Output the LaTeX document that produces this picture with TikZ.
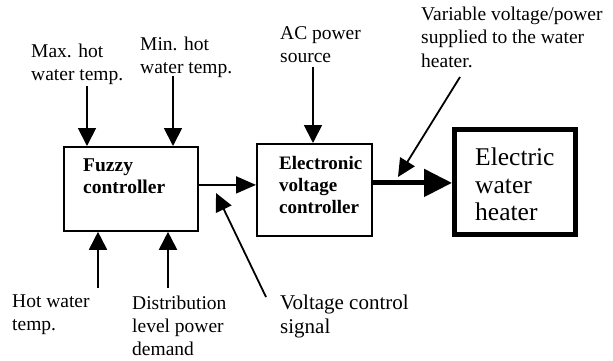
\documentclass[tikz,border=0pt]{standalone}
\usepackage{fontspec}
\setmainfont{Liberation Serif}
\usetikzlibrary{arrows.meta}

\begin{document}
\begin{tikzpicture}[x=1pt,y=-1pt,
    lbl/.style={anchor=north west, inner sep=0pt, align=left, font={\fontsize{19.5}{23}\selectfont}},
    box/.style={draw, line width=1.8pt, anchor=north west, inner sep=0pt},
    boxtxt/.style={anchor=north west, inner sep=0pt, align=left, font={\bfseries\fontsize{19.5}{22}\selectfont}},
    arr/.style={line width=1.8pt, -{Triangle[width=18pt,length=18pt]}},
    powarr/.style={line width=5pt, -{Triangle[width=27pt,length=28pt]}}]
    \useasboundingbox (0,0) rectangle (613,360);

    % Draw the blocks
    \node[box, minimum width=134pt, minimum height=84pt] (fuzzy) at (63,146) {};
    \node[box, minimum width=115pt, minimum height=92pt] (volt) at (256,143) {};
    \node[box, line width=5pt, minimum width=121pt, minimum height=105pt] (heater) at (452,127) {};

    \node[boxtxt] (fuzzyT) at ([shift={(20,12.7)}]fuzzy.north west) {Fuzzy\\controller};
    \node[boxtxt, font={\bfseries\fontsize{19}{22}\selectfont}] (voltT) at ([shift={(23,13)}]volt.north west) {Electronic\\voltage\\controller};
    \node[boxtxt, font={\fontsize{25.5}{27.5}\selectfont}] (heaterT) at ([shift={(23,20.6)}]heater.north west) {Electric\\water\\heater};

    % Labels
    \node[lbl] (maxT) at (31,43.7) {Max. hot\\water temp.};
    \node[lbl] (minT) at (140,36.7) {Min. hot\\water temp.};
    \node[lbl] (acT) at (280,26.8) {AC power\\source};
    \node[lbl, font={\fontsize{19.5}{23.5}\selectfont}] (varT) at (421,6.7) {Variable voltage/power\\supplied to the water\\heater.};
    \node[lbl, font={\fontsize{19.5}{22.5}\selectfont}] (hotT) at (12,295) {Hot water\\temp.};
    \node[lbl, font={\fontsize{19.5}{23}\selectfont}] (distT) at (132,295.7) {Distribution\\level power\\demand};
    \node[lbl, font={\fontsize{21}{24}\selectfont}] (vcT) at (280,294.7) {Voltage control\\signal};

    % Free ends of the connectors
    \coordinate (maxFrom) at (87,86);
    \coordinate (minFrom) at (173,76);
    \coordinate (acFrom) at (313,67);
    \coordinate (hotFrom) at (98,288);
    \coordinate (distFrom) at (168,288);
    \coordinate (varFrom) at (460,77);
    \coordinate (varTo) at (398,177);
    \coordinate (vcFrom) at (266,297);
    \coordinate (vcTo) at (216,193);

    % Inputs
    \draw[arr] (maxFrom) -- (maxFrom |- fuzzy.north);
    \draw[arr] (minFrom) -- (minFrom |- fuzzy.north);
    \draw[arr] (hotFrom) -- (hotFrom |- fuzzy.south);
    \draw[arr] (distFrom) -- (distFrom |- fuzzy.south);
    \draw[arr] (acFrom) -- (acFrom |- volt.north);

    % Signal and power
    \draw[arr, -{Triangle[width=17pt,length=20pt]}] ([yshift=4pt]fuzzy.east) -- ([yshift=4pt]fuzzy.east -| volt.west);
    \draw[powarr] ([yshift=7pt]volt.east) -- ([yshift=7pt]volt.east -| heater.west);

    % Pointers
    \draw[arr, -{Triangle[width=17pt,length=18pt]}] (varFrom) -- (varTo);
    \draw[arr, -{Triangle[width=17pt,length=18pt]}] (vcFrom) -- (vcTo);

\end{tikzpicture}
\end{document}
